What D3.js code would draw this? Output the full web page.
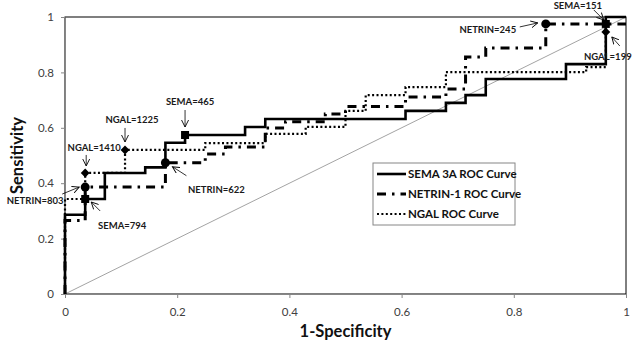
<!DOCTYPE html>
<html>
<head>
<meta charset="utf-8">
<script src="https://cdn.jsdelivr.net/npm/d3@7"></script>
<style>
  body { margin: 0; background: #fff; }
  svg { font-family: Lato, "Open Sans", sans-serif; }
</style>
</head>
<body>
<svg id="chart" width="632" height="346"></svg>
<script>
// ROC corner points (1-specificity, sensitivity)
const semaFpr = [0, 0, 0.036, 0.071, 0.143, 0.179, 0.214, 0.321, 0.357, 0.607, 0.679, 0.714, 0.75, 0.893, 0.964, 1];
const semaTpr = [0, 0.286, 0.343, 0.437, 0.457, 0.546, 0.574, 0.603, 0.632, 0.661, 0.69, 0.718, 0.776, 0.83, 1, 1];

const netrinFpr = [0, 0, 0.036, 0.179, 0.25, 0.286, 0.357, 0.393, 0.464, 0.5, 0.607, 0.679, 0.714, 0.75, 0.857, 1];
const netrinTpr = [0, 0.265, 0.386, 0.474, 0.505, 0.531, 0.599, 0.622, 0.65, 0.677, 0.711, 0.74, 0.856, 0.888, 0.975, 0.975];

const ngalFpr = [0, 0, 0.036, 0.107, 0.25, 0.357, 0.429, 0.5, 0.536, 0.607, 0.679, 0.929, 0.964, 0.964, 1];
const ngalTpr = [0, 0.343, 0.437, 0.52, 0.545, 0.578, 0.603, 0.661, 0.718, 0.747, 0.801, 0.819, 0.946, 1, 1];

// cut-off points marked on each curve
const semaMarkFpr = [0.036, 0.214, 0.964];
const semaMarkTpr = [0.343, 0.574, 0.975];
const semaMarkLabels = ["SEMA=794", "SEMA=465", "SEMA=151"];

const netrinMarkFpr = [0.036, 0.179, 0.857];
const netrinMarkTpr = [0.386, 0.474, 0.975];
const netrinMarkLabels = ["NETRIN=803", "NETRIN=622", "NETRIN=245"];

const ngalMarkFpr = [0.036, 0.107, 0.964];
const ngalMarkTpr = [0.437, 0.52, 0.946];
const ngalMarkLabels = ["NGAL=1410", "NGAL=1225", "NGAL=199"];

const xTicks = [0, 0.2, 0.4, 0.6, 0.8, 1];
const yTicks = [0, 0.2, 0.4, 0.6, 0.8, 1];
const legendLabels = ["SEMA 3A ROC Curve", "NETRIN-1 ROC Curve", "NGAL ROC Curve"];

const svg = d3.select("#chart");
const x = d3.scaleLinear([0, 1], [65, 626]);
const y = d3.scaleLinear([0, 1], [294, 17]);

// plot area border
svg.append("rect")
  .attr("x", x(0)).attr("y", y(1))
  .attr("width", x(1) - x(0)).attr("height", y(0) - y(1))
  .attr("fill", "none").attr("stroke", "#000").attr("stroke-width", 1);

// axes
const styleAxis = g => {
  g.selectAll("path, line").attr("stroke", "#868686");
  g.selectAll("text").attr("fill", "#404040").attr("font-size", 11.5);
};
svg.append("g")
  .attr("transform", `translate(0,${y(0)})`)
  .call(d3.axisBottom(x).tickValues(xTicks).tickFormat(d => d).tickSize(4).tickSizeOuter(0).tickPadding(10))
  .call(styleAxis)
  .attr("font-family", null);
svg.append("g")
  .attr("transform", `translate(${x(0)},0)`)
  .call(d3.axisLeft(y).tickValues(yTicks).tickFormat(d => d).tickSize(4).tickSizeOuter(0).tickPadding(7))
  .call(styleAxis)
  .attr("font-family", null);

// axis titles
svg.append("text")
  .attr("x", (x(0) + x(1)) / 2).attr("y", 337)
  .attr("text-anchor", "middle").attr("font-weight", "bold").attr("font-size", 16.5)
  .attr("fill", "#111").text("1-Specificity");
svg.append("text")
  .attr("transform", `translate(23,${(y(0) + y(1)) / 2}) rotate(-90)`)
  .attr("text-anchor", "middle").attr("font-weight", "bold").attr("font-size", 16.5)
  .attr("fill", "#111").text("Sensitivity");

// chance diagonal
svg.append("line")
  .attr("x1", x(0)).attr("y1", y(0)).attr("x2", x(1)).attr("y2", y(1))
  .attr("stroke", "#8c8c8c").attr("stroke-width", 0.8);

const step = d3.line().x(d => x(d[0])).y(d => y(d[1])).curve(d3.curveStepAfter);

const curves = [
  { fpr: semaFpr, tpr: semaTpr, width: 2.6, dash: null },
  { fpr: netrinFpr, tpr: netrinTpr, width: 3, dash: "9,6,2.5,6" },
  { fpr: ngalFpr, tpr: ngalTpr, width: 2.2, dash: "2,2.4" }
];
curves.forEach(c => {
  svg.append("path")
    .attr("d", step(d3.zip(c.fpr, c.tpr)))
    .attr("fill", "none").attr("stroke", "#000")
    .attr("stroke-width", c.width)
    .attr("stroke-dasharray", c.dash);
});

// markers
svg.selectAll(".sq").data(d3.zip(semaMarkFpr, semaMarkTpr)).enter().append("rect")
  .attr("x", d => x(d[0]) - 4).attr("y", d => y(d[1]) - 4)
  .attr("width", 8).attr("height", 8).attr("fill", "#000");
svg.selectAll(".ci").data(d3.zip(netrinMarkFpr, netrinMarkTpr)).enter().append("circle")
  .attr("cx", d => x(d[0])).attr("cy", d => y(d[1])).attr("r", 4.5).attr("fill", "#000");
svg.selectAll(".di").data(d3.zip(ngalMarkFpr, ngalMarkTpr)).enter().append("path")
  .attr("d", d3.symbol(d3.symbolDiamond2, 50))
  .attr("transform", d => `translate(${x(d[0])},${y(d[1])})`)
  .attr("fill", "#000");

// open arrow head
svg.append("defs").append("marker")
  .attr("id", "arr").attr("viewBox", "0 0 8 8").attr("refX", 7).attr("refY", 4)
  .attr("markerWidth", 8).attr("markerHeight", 8).attr("markerUnits", "userSpaceOnUse")
  .attr("orient", "auto")
  .append("path").attr("d", "M0,0.5 L7,4 L0,7.5")
  .attr("fill", "none").attr("stroke", "#000").attr("stroke-width", 0.9);

// label offsets from the marker: text centre, arrow tail, arrow tip
const notes = [
  { f: semaMarkFpr[0], t: semaMarkTpr[0], label: semaMarkLabels[0], tx: 37, ty: 27, ax: 15, ay: 12, bx: 6, by: 3 },
  { f: semaMarkFpr[1], t: semaMarkTpr[1], label: semaMarkLabels[1], tx: 5, ty: -33, ax: 0, ay: -25, bx: 0, by: -8 },
  { f: semaMarkFpr[2], t: semaMarkTpr[2], label: semaMarkLabels[2], tx: -28, ty: -18, ax: -12, ay: -14, bx: -2, by: -4 },
  { f: netrinMarkFpr[0], t: netrinMarkTpr[0], label: netrinMarkLabels[0], tx: -50, ty: 14, ax: -23, ay: 7, bx: -6, by: 0 },
  { f: netrinMarkFpr[1], t: netrinMarkTpr[1], label: netrinMarkLabels[1], tx: 51, ty: 27, ax: 21, ay: 13, bx: 7, by: 4 },
  { f: netrinMarkFpr[2], t: netrinMarkTpr[2], label: netrinMarkLabels[2], tx: -58, ty: 6, ax: -26, ay: 3, bx: -8, by: -1 },
  { f: ngalMarkFpr[0], t: ngalMarkTpr[0], label: ngalMarkLabels[0], tx: 9, ty: -25, ax: 1, ay: -18, bx: 1, by: -7 },
  { f: ngalMarkFpr[1], t: ngalMarkTpr[1], label: ngalMarkLabels[1], tx: 7, ty: -30, ax: 0, ay: -22, bx: 0, by: -8 },
  { f: ngalMarkFpr[2], t: ngalMarkTpr[2], label: ngalMarkLabels[2], tx: 2, ty: 25, ax: 14, ay: 14, bx: 6, by: 5 }
];
notes.forEach(n => {
  const px = x(n.f), py = y(n.t);
  svg.append("line")
    .attr("x1", px + n.ax).attr("y1", py + n.ay)
    .attr("x2", px + n.bx).attr("y2", py + n.by)
    .attr("stroke", "#000").attr("stroke-width", 0.8)
    .attr("marker-end", "url(#arr)");
  svg.append("text")
    .attr("x", px + n.tx).attr("y", py + n.ty).attr("dy", "0.35em")
    .attr("text-anchor", "middle").attr("font-weight", "bold").attr("font-size", 9.5)
    .attr("fill", "#1a1a1a").text(n.label);
});

// legend
const lg = svg.append("g").attr("transform", "translate(373,163)");
lg.append("rect").attr("width", 142).attr("height", 62)
  .attr("fill", "#fff").attr("stroke", "#868686").attr("stroke-width", 1);
legendLabels.forEach((label, i) => {
  const c = curves[i], ly = 11 + i * 20;
  lg.append("line").attr("x1", 4).attr("x2", 33).attr("y1", ly).attr("y2", ly)
    .attr("stroke", "#000").attr("stroke-width", c.width).attr("stroke-dasharray", c.dash);
  lg.append("text").attr("x", 35).attr("y", ly).attr("dy", "0.35em")
    .attr("font-weight", "bold").attr("font-size", 11.5).attr("fill", "#111").text(label);
});
</script>
</body>
</html>
